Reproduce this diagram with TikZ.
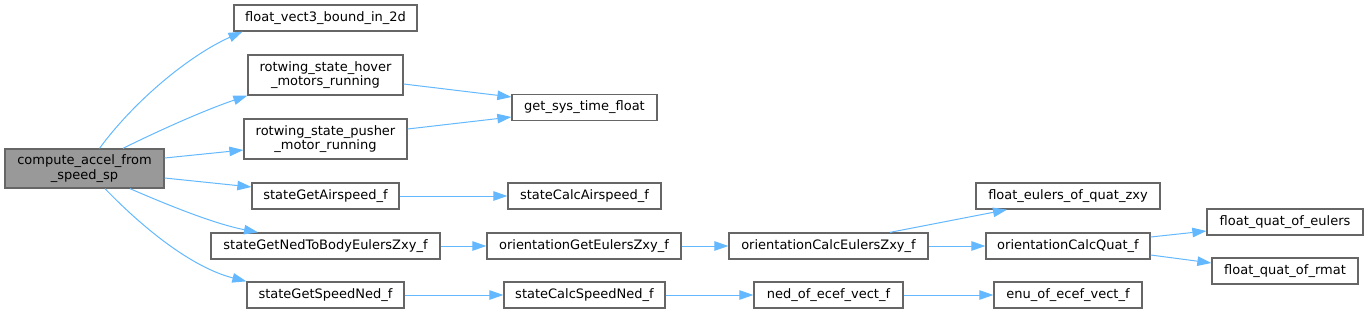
\documentclass[tikz,border=0pt]{standalone}
\usepackage{fontspec}
\setmainfont{DejaVu Sans}
\usetikzlibrary{arrows.meta}
\definecolor{edgeblue}{HTML}{63B8FF}
\definecolor{boxline}{HTML}{666666}
\definecolor{mainfill}{HTML}{999999}
\begin{document}
\begin{tikzpicture}[x=1pt,y=-1pt,
  box/.style={draw=boxline,line width=1.3pt,fill=white,inner sep=0pt,align=center,
    font=\fontsize{13}{14.3}\selectfont},
  mainbox/.style={box,fill=mainfill},
  link/.style={draw=edgeblue,line width=1pt,-{Triangle[length=14pt,width=9.5pt]}}]
\useasboundingbox (0,0) rectangle (1368,313);
\node[mainbox,minimum width=159pt,minimum height=39pt] (main) at (84.5,168.5) {compute\_accel\_from\\\_speed\_sp};
\node[box,minimum width=183pt,minimum height=26pt] (fv3) at (325.5,18) {float\_vect3\_bound\_in\_2d};
\node[box,minimum width=155pt,minimum height=40pt] (hover) at (325.5,75) {rotwing\_state\_hover\\\_motors\_running};
\node[box,minimum width=163pt,minimum height=40pt] (pusher) at (325.5,139) {rotwing\_state\_pusher\\\_motor\_running};
\node[box,minimum width=147pt,minimum height=26pt] (air) at (325.5,196) {stateGetAirspeed\_f};
\node[box,minimum width=229pt,minimum height=26pt] (ned) at (325.5,246) {stateGetNedToBodyEulersZxy\_f};
\node[box,minimum width=157pt,minimum height=26pt] (spd) at (325.5,295) {stateGetSpeedNed\_f};
\node[box,minimum width=145pt,minimum height=26pt] (gst) at (584.5,107.5) {get\_sys\_time\_float};
\node[box,minimum width=153pt,minimum height=26pt] (calcair) at (584.5,196) {stateCalcAirspeed\_f};
\node[box,minimum width=194pt,minimum height=26pt] (oge) at (584,246) {orientationGetEulersZxy\_f};
\node[box,minimum width=161pt,minimum height=26pt] (scs) at (584.5,295) {stateCalcSpeedNed\_f};
\node[box,minimum width=199pt,minimum height=26pt] (oce) at (828.5,246) {orientationCalcEulersZxy\_f};
\node[box,minimum width=149pt,minimum height=26pt] (noe) at (828.5,295) {ned\_of\_ecef\_vect\_f};
\node[box,minimum width=184pt,minimum height=26pt] (fe) at (1068,196) {float\_eulers\_of\_quat\_zxy};
\node[box,minimum width=164pt,minimum height=26pt] (ocq) at (1068,246) {orientationCalcQuat\_f};
\node[box,minimum width=148pt,minimum height=26pt] (enu) at (1068,295) {enu\_of\_ecef\_vect\_f};
\node[box,minimum width=156pt,minimum height=26pt] (fqe) at (1285,222) {float\_quat\_of\_eulers};
\node[box,minimum width=146pt,minimum height=26pt] (fqr) at (1285,271) {float\_quat\_of\_rmat};
% edges from main
\draw[link] ([xshift=15pt]main.north) .. controls (135,100) and (190,55) .. ([xshift=-83pt]fv3.south);
\draw[link] ([xshift=38.5pt]main.north) .. controls (160,130) and (205,110) .. (hover.south west);
\draw[link] ([yshift=10.5pt]main.east) -- ([yshift=-11pt]pusher.west);
\draw[link] ([yshift=-9.5pt]main.east) -- ([yshift=9pt]air.west);
\draw[link] ([xshift=45.5pt]main.south) .. controls (170,206) and (215,224) .. ([xshift=-67.5pt]ned.north);
\draw[link] ([xshift=20.5pt]main.south) .. controls (140,225) and (190,267) .. (spd.north west);
% second level
\draw[link] ([yshift=-9pt]hover.east) -- ([yshift=10.5pt]gst.west);
\draw[link] ([yshift=10pt]pusher.east) -- ([yshift=-9.5pt]gst.west);
\draw[link] (air) -- (calcair);
\draw[link] (ned) -- (oge);
\draw[link] (oge) -- (oce);
\draw[link] ([xshift=61.5pt]oce.north) -- ([xshift=-61pt]fe.south);
\draw[link] (oce) -- (ocq);
\draw[link] ([yshift=9pt]ocq.east) -- ([yshift=-9pt]fqe.west);
\draw[link] ([yshift=-9pt]ocq.east) -- ([yshift=8pt]fqr.west);
\draw[link] (spd) -- (scs);
\draw[link] (scs) -- (noe);
\draw[link] (noe) -- (enu);
\end{tikzpicture}
\end{document}
